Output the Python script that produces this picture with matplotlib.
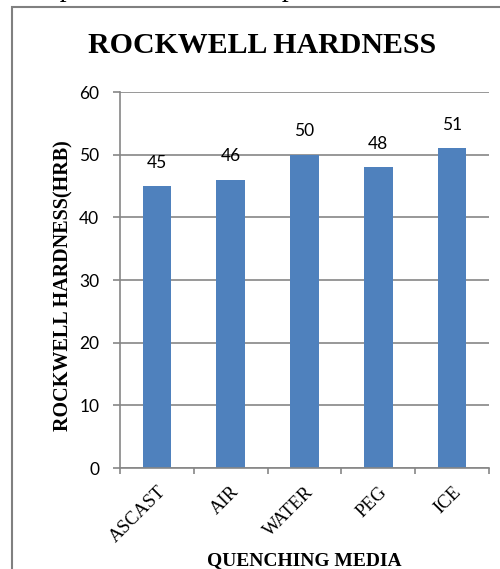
import matplotlib
matplotlib.use('Agg')
import matplotlib.pyplot as plt
import matplotlib.patches as mpatches
import matplotlib.transforms as mtransforms
import numpy as np

# Data
media = ['ASCAST', 'AIR', 'WATER', 'PEG', 'ICE']
hardness = [45, 46, 50, 48, 51]
y_ticks = [0, 10, 20, 30, 40, 50, 60]

barColor = '#4F81BD'
gridColor = '#868686'
borderColor = '#808080'
serif = 'Liberation Serif'
sans = 'Lato'

fig = plt.figure(figsize=(5.0, 5.69), dpi=100)
ax = fig.add_axes([0.24, 0.1775, 0.738, 0.6608])

x = np.arange(len(media))
ax.bar(x, hardness, width=0.39, color=barColor, zorder=2)

# Value labels above the bars
for xi, v in zip(x, hardness):
    ax.annotate(str(v), (xi, v), xytext=(0, 11), textcoords='offset points',
                ha='center', va='bottom', fontsize=12.5, family=sans, color='black')

ax.set_xlim(-0.5, len(media) - 0.5)
ax.set_ylim(0, 60)
ax.set_yticks(y_ticks)
ax.set_yticklabels([str(t) for t in y_ticks], family=sans, fontsize=12.5)
ax.yaxis.grid(True, color=gridColor, linewidth=1.2, zorder=0)
ax.set_axisbelow(True)

# Category labels sit at bar centres, tick marks sit between categories
ax.set_xticks(x)
ax.set_xticklabels(media, rotation=45, ha='right', rotation_mode='anchor',
                   va='top', family=serif, fontsize=13.5)
shift = mtransforms.ScaledTranslation(-3 / 100, 0, fig.dpi_scale_trans)
for lbl in ax.get_xticklabels():
    lbl.set_transform(lbl.get_transform() + shift)
ax.set_xticks(np.arange(len(media) + 1) - 0.5, minor=True)
ax.tick_params(axis='x', which='major', length=0, pad=11)
ax.tick_params(axis='x', which='minor', length=4, color=gridColor, width=1.2)
ax.tick_params(axis='y', length=5, color=gridColor, width=1.2, pad=10)

for side in ['top', 'right']:
    ax.spines[side].set_visible(False)
for side in ['left', 'bottom']:
    ax.spines[side].set_color(gridColor)
    ax.spines[side].set_linewidth(1.2)

# Titles
fig.text(0.524, 1 - 53 / 569, 'ROCKWELL HARDNESS', ha='center', va='baseline',
         family=serif, fontsize=21.5, fontweight='bold')
fig.text(0.609, 4 / 569, 'QUENCHING MEDIA', ha='center', va='baseline',
         family=serif, fontsize=14, fontweight='bold')
fig.text(63 / 500, 1 - 286 / 569, 'ROCKWELL HARDNESS(HRB)', ha='center', va='center',
         rotation=90, family=serif, fontsize=14.5, fontweight='bold')

# Surrounding frame and clipped page text above it
border = mpatches.Rectangle((12 / 500, -0.05), 1.0, 1.05 - 7 / 569, transform=fig.transFigure,
                            fill=False, edgecolor=borderColor, linewidth=1.5)
fig.patches.append(border)
fig.text(12 / 500, 1 + 4 / 569, 'compared to as cast samples.', ha='left', va='baseline',
         family=serif, fontsize=20)

fig.savefig('out.png', dpi=100)
